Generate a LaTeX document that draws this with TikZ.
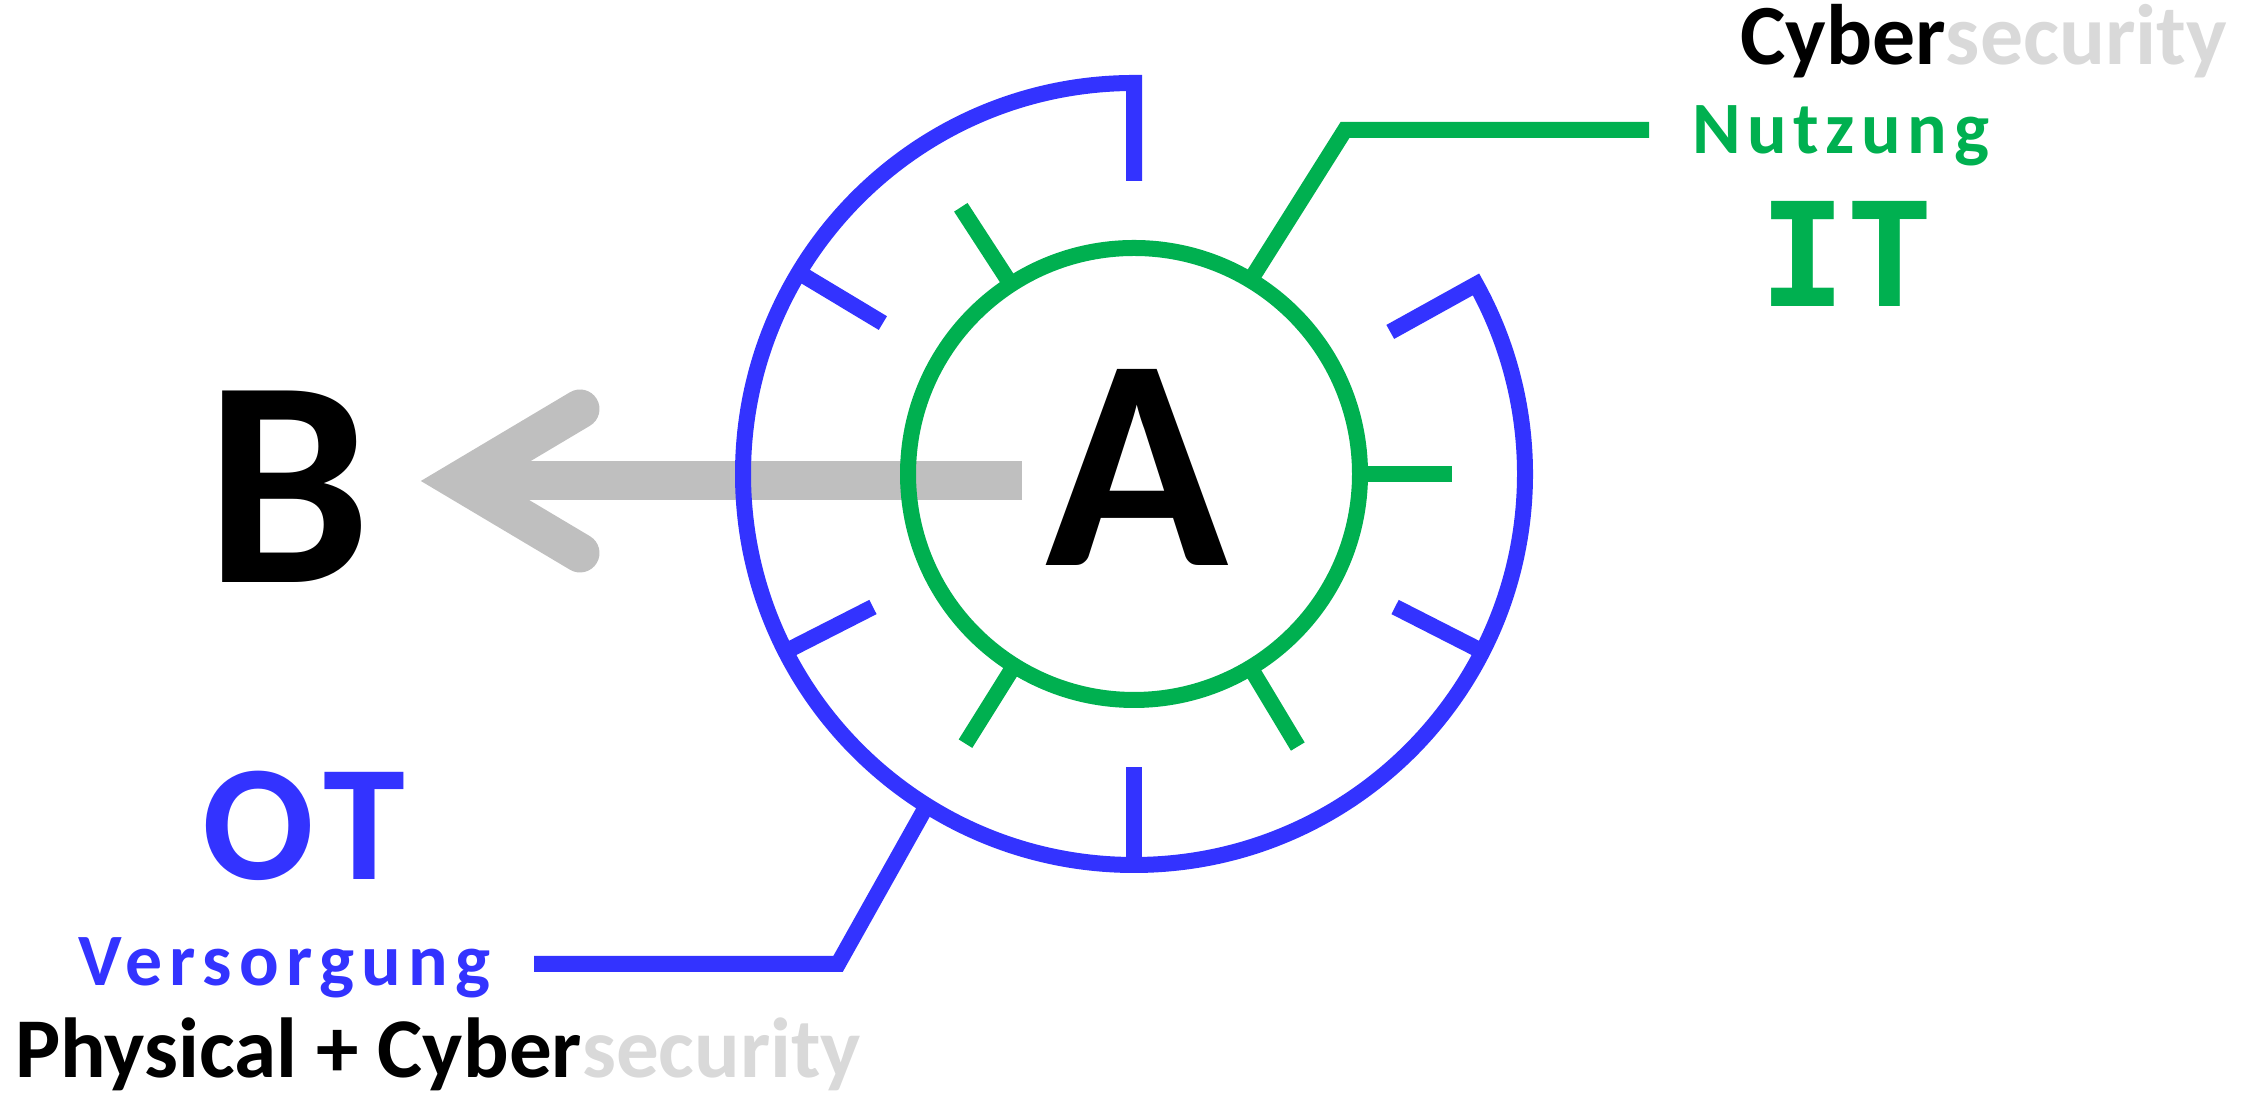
\documentclass[tikz,border=0pt]{standalone}
\usepackage{fontspec}
\usetikzlibrary{calc}
\setmainfont{Carlito}
\newfontfamily\monofam{DejaVu Sans Mono}
\definecolor{otblue}{RGB}{51,51,255}
\definecolor{itgreen}{RGB}{0,176,80}
\definecolor{arrowgray}{RGB}{191,191,191}
\definecolor{softgray}{RGB}{217,217,217}
\tikzset{
  ring/.style={line width=0.16cm},
  blueline/.style={ring, draw=otblue, line join=miter},
  greenline/.style={ring, draw=itgreen, line join=miter},
  label/.style={inner sep=0pt, outer sep=0pt, font=\bfseries},
}
\begin{document}
\begin{tikzpicture}[x=0.01cm, y=0.01cm]
  \useasboundingbox (0,0) rectangle (2258,1095);

  % centre of both rings
  \coordinate (C) at (1134,621);

  % thick grey arrow from A towards B
  \coordinate (shaftEnd) at (1022,614);
  \coordinate (tipV) at (459,614);
  \coordinate (armUp) at (580,686);
  \coordinate (armDn) at (580,542);
  \draw[arrowgray, line width=0.39cm] (shaftEnd) -- (tipV);
  \draw[arrowgray, line width=0.39cm, line cap=round, line join=miter]
    (armUp) -- (tipV) -- (armDn);

  % outer (OT) ring: open arc with inward ticks
  \draw[blueline] ($(C)+(90:293)$) -- ($(C)+(90:391)$)
    arc[start angle=90, end angle=389, radius=391]
    -- ($(C)+(29:293)$);
  \foreach \a in {149,207,270,333}
    \draw[blueline] ($(C)+(\a:391)$) -- ($(C)+(\a:293)$);

  % inner (IT) ring with outward ticks
  \draw[greenline] (C) circle[radius=226];
  \foreach \a in {123,0,238,301}
    \draw[greenline] ($(C)+(\a:226)$) -- ($(C)+(\a:318)$);

  % labels
  \node[label, font=\bfseries\fontsize{86}{86}\selectfont, anchor=base] (A) at (1137,529) {A};
  \node[label, font=\bfseries\fontsize{84}{84}\selectfont, anchor=base] (B) at (288,512) {B};
  \node[label, font=\bfseries\fontsize{47}{47}\selectfont\addfontfeatures{LetterSpace=8}, text=otblue, anchor=base] (OT) at (304,215) {OT};
  \node[label, font=\monofam\bfseries\fontsize{41}{41}\selectfont, text=itgreen, anchor=base] (IT) at (1846,788) {IT};
  \node[label, font=\bfseries\fontsize{24.4}{24.4}\selectfont, anchor=base west] (cyTop) at (1740,1030)
    {Cyber\textcolor{softgray}{security}};
  \node[label, font=\bfseries\fontsize{21}{21}\selectfont\addfontfeatures{LetterSpace=9}, text=itgreen, anchor=base west] (use) at (1692,941) {Nutzung};
  \node[label, font=\bfseries\fontsize{21}{21}\selectfont\addfontfeatures{LetterSpace=10}, text=otblue, anchor=base west] (supply) at (78,109) {Versorgung};
  \node[label, font=\bfseries\fontsize{24.2}{24.2}\selectfont, anchor=base west] (phys) at (15,17)
    {Physical + Cyber\textcolor{softgray}{security}};

  % leader lines from the rings to their captions
  \coordinate (gKnee) at (1345,965);
  \coordinate (gEnd) at (1649,965);
  \draw[greenline] ($(C)+(59:226)$) -- (gKnee) -- (gEnd);
  \coordinate (bKnee) at (838,131);
  \coordinate (bEnd) at (534,131);
  \draw[blueline] ($(C)+(238:391)$) -- (bKnee) -- (bEnd);
\end{tikzpicture}
\end{document}
